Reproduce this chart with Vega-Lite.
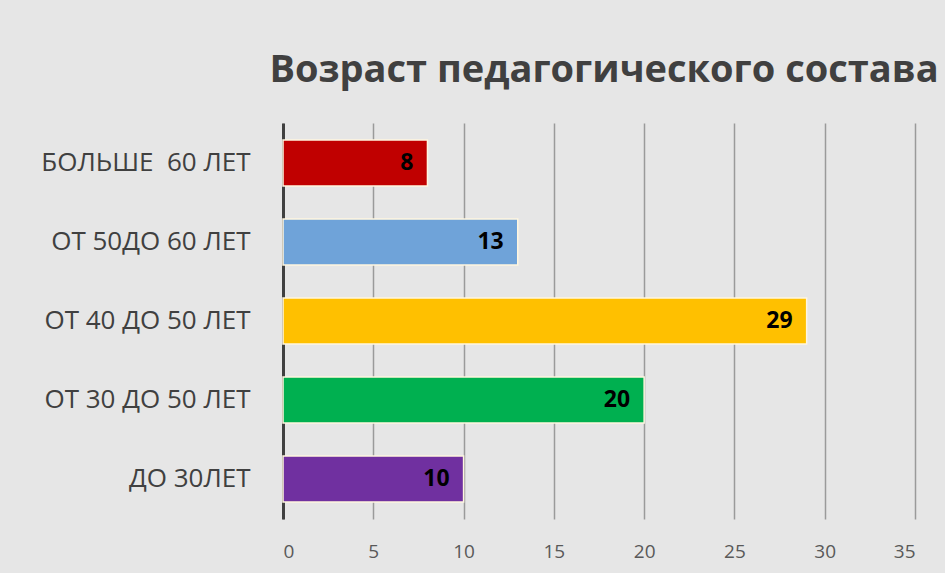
{
  "$schema": "https://vega.github.io/schema/vega-lite/v6.json",
  "width": 632,
  "height": 396,
  "autosize": {"type": "none"},
  "padding": {"left": 283, "top": 123, "right": 30, "bottom": 54},
  "background": "#e6e6e6",
  "title": {
    "text": "Возраст педагогического состава",
    "font": "Open Sans",
    "fontSize": 38,
    "fontWeight": "bold",
    "color": "#404040",
    "anchor": "middle",
    "dx": 5,
    "offset": 33
  },
  "data": {
    "values": [
      {"group": "БОЛЬШЕ \u00a060 ЛЕТ", "value": 8, "color": "#C00000"},
      {"group": "ОТ 50ДО 60 ЛЕТ", "value": 13, "color": "#6FA3D9"},
      {"group": "ОТ 40 ДО 50 ЛЕТ\u00a0", "value": 29, "color": "#FFC000"},
      {"group": "ОТ 30 ДО 50 ЛЕТ", "value": 20, "color": "#00B050"},
      {"group": "ДО 30ЛЕТ", "value": 10, "color": "#7030A0"}
    ]
  },
  "encoding": {
    "y": {
      "field": "group",
      "type": "nominal",
      "sort": null,
      "scale": {"paddingInner": 0.418, "paddingOuter": 0.215},
      "axis": {
        "title": null,
        "ticks": false,
        "domainColor": "#404040",
        "domainWidth": 3,
        "labelFont": "Open Sans",
        "labelFontSize": 26,
        "labelColor": "#404040",
        "labelPadding": 33,
        "labelLimit": 300
      }
    },
    "x": {
      "field": "value",
      "type": "quantitative",
      "scale": {"domain": [0, 35], "nice": false},
      "axis": {
        "title": null,
        "values": [0, 5, 10, 15, 20, 25, 30, 35],
        "domain": false,
        "ticks": false,
        "grid": true,
        "gridColor": "#9a9a9a",
        "gridWidth": 1.5,
        "labelFont": "Open Sans",
        "labelFontSize": 19,
        "labelColor": "#595959",
        "labelPadding": 23
      }
    }
  },
  "layer": [
    {
      "mark": {"type": "bar", "stroke": "#fff6e0", "strokeWidth": 1.5},
      "encoding": {
        "color": {"field": "color", "type": "nominal", "scale": null}
      }
    },
    {
      "mark": {
        "type": "text",
        "align": "right",
        "dx": -14,
        "font": "Open Sans",
        "fontSize": 23,
        "fontWeight": "bold",
        "color": "#000000"
      },
      "encoding": {"text": {"field": "value", "type": "quantitative"}}
    }
  ],
  "config": {"view": {"stroke": null}}
}
